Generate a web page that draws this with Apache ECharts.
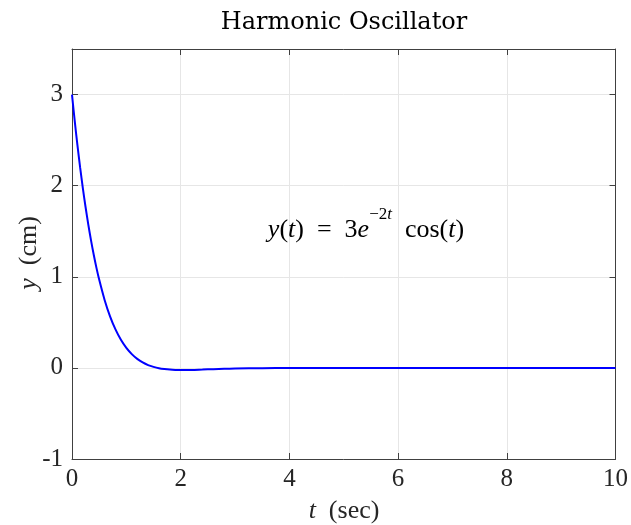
<!DOCTYPE html>
<html>
<head>
<meta charset="utf-8">
<script src="https://cdn.jsdelivr.net/npm/echarts@6/dist/echarts.min.js"></script>
<style>
html,body{margin:0;padding:0;background:#fff;}
#chart{width:631px;height:525px;}
</style>
</head>
<body>
<div id="chart"></div>
<script>
// Data
const tValues = [0, 0.05, 0.1, 0.15, 0.2, 0.25, 0.3, 0.35, 0.4, 0.45, 0.5, 0.6, 0.7, 0.8, 0.9, 1.0,
  1.1, 1.2, 1.3, 1.4, 1.5, 1.6, 1.7, 1.8, 1.9, 2.0, 2.2, 2.4, 2.6, 2.8, 3.0, 3.5, 4, 5, 6, 7, 8, 9, 10];
const yValues = [3, 2.711, 2.444, 2.198, 1.971, 1.763, 1.573, 1.399, 1.242, 1.098, 0.969, 0.746, 0.566, 0.422, 0.308, 0.219,
  0.151, 0.099, 0.060, 0.031, 0.011, -0.004, -0.013, -0.019, -0.022, -0.023, -0.022, -0.018, -0.014, -0.0105, -0.0074, -0.0026, -0.0007, 0, 0, 0, 0, 0, 0];
const xTickValues = [0, 2, 4, 6, 8, 10];
const yTickValues = [-1, 0, 1, 2, 3];
const titleText = 'Harmonic Oscillator';
// annotation pieces: [text, italic, superscript]
const formulaParts = [['y', 1, 0], ['(', 0, 0], ['t', 1, 0], [')', 0, 0], ['  =  ', 0, 0], ['3', 0, 0],
  ['e', 1, 0], ['−2', 0, 1], ['t', 1, 1], ['  cos(', 0, 0], ['t', 1, 0], [')', 0, 0]];

const serifName = 'Liberation Serif';
const serif = '"Liberation Serif", "Times New Roman", serif';
const titleFont = '"DejaVu Serif", serif';
const axisColor = '#404040';
const textColor = '#262626';
const gridColor = '#e6e6e6';

const chart = echarts.init(document.getElementById('chart'), null, {renderer: 'canvas'});
const points = tValues.map((t, i) => [t, yValues[i]]);

function baseX(pos, showLabels) {
  return {
    type: 'value', position: pos, min: 0, max: 10, interval: 2,
    axisLine: {show: true, onZero: false, lineStyle: {color: axisColor, width: 1}},
    axisTick: {show: true, inside: true, length: 6, lineStyle: {color: axisColor}},
    axisLabel: {show: showLabels, margin: 8, color: textColor, fontFamily: serif, fontSize: 25,
      formatter: v => xTickValues.includes(v) ? String(v) : ''},
    splitLine: {show: showLabels, lineStyle: {color: gridColor, width: 1}}
  };
}
function baseY(pos, showLabels) {
  return {
    type: 'value', position: pos, min: -1, max: 3.5, interval: 1,
    axisLine: {show: true, onZero: false, lineStyle: {color: axisColor, width: 1}},
    axisTick: {show: true, inside: true, length: 6, lineStyle: {color: axisColor},
      customValues: yTickValues},
    axisLabel: {show: showLabels, margin: 9, color: textColor, fontFamily: serif, fontSize: 25,
      customValues: yTickValues,
      formatter: v => yTickValues.includes(v) ? String(v) : ''},
    splitLine: {show: showLabels, lineStyle: {color: gridColor, width: 1}}
  };
}

// lay out the formula annotation piece by piece
const measureCtx = document.createElement('canvas').getContext('2d');
const baseSize = 26, supSize = 17;
const formulaCenterX = 366, baseMidY = 230, supMidY = 215;
const pieces = formulaParts.map(([txt, it, sup]) => {
  const size = sup ? supSize : baseSize;
  measureCtx.font = (it ? 'italic ' : '') + size + 'px "' + serifName + '"';
  return {txt, it, sup, size, w: measureCtx.measureText(txt).width};
});
const totalW = pieces.reduce((s, p) => s + p.w, 0);
let cursor = formulaCenterX - totalW / 2;
const formulaGraphics = pieces.map(p => {
  const g = {type: 'text', x: cursor, y: p.sup ? supMidY : baseMidY, z: 10,
    style: {text: p.txt, fontFamily: serif, fontSize: p.size, fontStyle: p.it ? 'italic' : 'normal',
      fill: '#000', align: 'left', verticalAlign: 'middle'}};
  cursor += p.w;
  return g;
});

chart.setOption({
  animation: false,
  backgroundColor: '#ffffff',
  grid: {left: 72, right: 15, top: 49, bottom: 66, containLabel: false},
  xAxis: [baseX('bottom', true), baseX('top', false)],
  yAxis: [baseY('left', true), baseY('right', false)],
  series: [{
    type: 'line', xAxisIndex: 0, yAxisIndex: 0, data: points, smooth: 0.3,
    showSymbol: false, lineStyle: {color: '#0000ff', width: 2}, z: 5
  }],
  graphic: [
    {type: 'text', x: 344, y: 23, z: 10,
      style: {text: titleText, fontFamily: titleFont, fontSize: 24, fill: '#000',
        align: 'center', verticalAlign: 'middle'}},
    {type: 'text', x: 344, y: 511, z: 10,
      style: {text: '{i|t}  (sec)', fontFamily: serif, fontSize: 26, fill: textColor,
        align: 'center', verticalAlign: 'middle',
        rich: {i: {fontStyle: 'italic', fontFamily: serif, fontSize: 26, fill: textColor}}}},
    {type: 'text', x: 29, y: 253, rotation: Math.PI / 2, z: 10,
      style: {text: '{i|y}  (cm)', fontFamily: serif, fontSize: 26, fill: textColor,
        align: 'center', verticalAlign: 'middle',
        rich: {i: {fontStyle: 'italic', fontFamily: serif, fontSize: 26, fill: textColor}}}}
  ].concat(formulaGraphics)
});
</script>
</body>
</html>
